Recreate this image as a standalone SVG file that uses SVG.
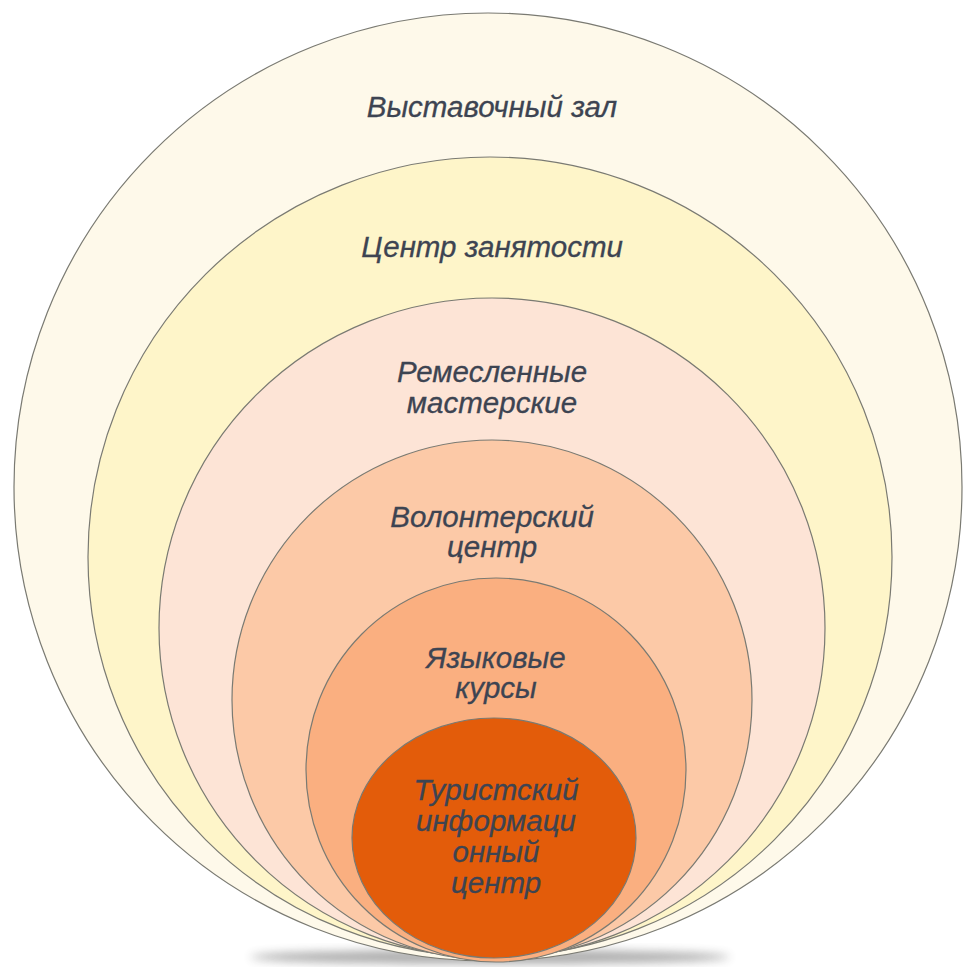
<svg xmlns="http://www.w3.org/2000/svg" width="965" height="967" viewBox="0 0 965 967">
<defs>
<filter id="sh" x="-50%" y="-50%" width="200%" height="200%"><feGaussianBlur stdDeviation="5"/></filter>
</defs>
<style>
.c{stroke:#7a7a72;stroke-width:1.2}
.t{font-family:"Liberation Sans",Arial,sans-serif;font-style:italic;font-size:29.5px;fill:#3d4452;stroke:#3d4452;stroke-width:0.3;text-anchor:middle}
</style>
<rect width="965" height="967" fill="#ffffff"/>
<ellipse cx="490" cy="957" rx="240" ry="7" fill="#444" opacity="0.45" filter="url(#sh)"/>
<g id="n1"><ellipse class="c" cx="488" cy="487" rx="474" ry="474" fill="#fef9ea"/><text class="t" x="492" y="117">Выставочный зал</text></g>
<g id="n2"><ellipse class="c" cx="490" cy="557" rx="402" ry="400" fill="#fef5c9"/><text class="t" x="492" y="257">Центр занятости</text></g>
<g id="n3"><ellipse class="c" cx="492" cy="628" rx="333" ry="330" fill="#fde4d6"/><text class="t" x="492" y="382">Ремесленные</text><text class="t" x="492" y="413">мастерские</text></g>
<g id="n4"><ellipse class="c" cx="492" cy="700" rx="260" ry="260" fill="#fcc9a7"/><text class="t" x="492" y="527">Волонтерский</text><text class="t" x="492" y="557">центр</text></g>
<g id="n5"><ellipse class="c" cx="496" cy="770" rx="190" ry="192" fill="#faaf80"/><text class="t" x="496" y="668">Языковые</text><text class="t" x="496" y="698">курсы</text></g>
<g id="n6"><ellipse class="c" cx="494" cy="838" rx="142" ry="120" fill="#e35c0a"/><text class="t" x="496" y="800">Туристский</text><text class="t" x="496" y="831">информаци</text><text class="t" x="496" y="862">онный</text><text class="t" x="496" y="893">центр</text></g>
<g id="connectors"/>
</svg>
